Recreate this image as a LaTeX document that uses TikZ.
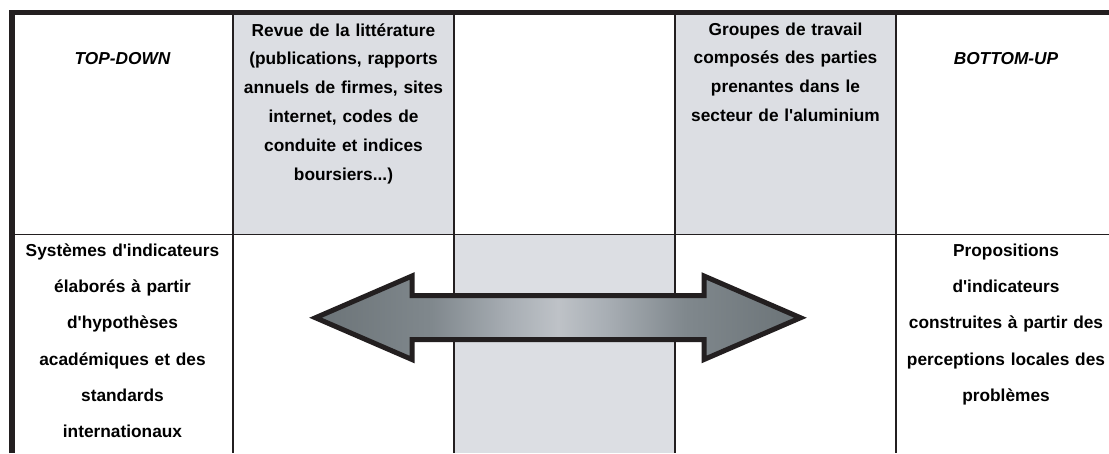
\documentclass[tikz,border=0pt]{standalone}
\usepackage{fontspec}
\setmainfont{Liberation Sans}
\definecolor{cellgrey}{RGB}{220,222,227}
\definecolor{linecol}{RGB}{35,31,32}
\definecolor{adark}{RGB}{107,115,119}
\definecolor{amid}{RGB}{128,136,141}
\definecolor{ahalf}{RGB}{168,174,180}
\definecolor{alight}{RGB}{190,194,199}
\pgfdeclarehorizontalshading{arrowshade}{100bp}{color(0bp)=(adark); color(25bp)=(adark); color(37bp)=(amid); color(45bp)=(ahalf); color(50bp)=(alight); color(55bp)=(ahalf); color(63bp)=(amid); color(75bp)=(adark); color(100bp)=(adark)}
\newcommand{\apos}{\textquotesingle}
\begin{document}
\begin{tikzpicture}[x=1pt,y=-1pt,
  thinline/.style={draw=linecol, line width=1.8pt},
  thickline/.style={draw=linecol, line width=5.5pt},
  cell/.style={text width=218pt, align=center, anchor=base, inner sep=0pt,
    font=\bfseries\fontsize{17.3}{28.9}\selectfont},
  lowcell/.style={cell, font=\bfseries\fontsize{17.3}{36.2}\selectfont},
  headcell/.style={cell, font=\bfseries\itshape\fontsize{17.3}{28.9}\selectfont}]
\useasboundingbox (0,0) rectangle (1109,453);
\fill[white] (0,0) rectangle (1109,453);
% grey cells
\fill[cellgrey] (233,15) rectangle (454,234.5);
\fill[cellgrey] (675,15) rectangle (896,234.5);
\fill[cellgrey] (454,234.5) rectangle (675,453);
% grid
\foreach \x in {233,454,675,896} \draw[thinline] (\x,12) -- (\x,453);
\draw[thinline] (12,234.5) -- (1109,234.5);
\draw[thickline] (12,453) -- (12,12.5) -- (1109,12.5);
% double arrow
\shadedraw[shading=arrowshade, draw=linecol, line width=5pt, line join=miter]
  (315.5,317.75) -- (412,276) -- (412,295.7) -- (704,295.7) -- (704,276)
  -- (800.5,317.75) -- (704,359.5) -- (704,339.5) -- (412,339.5) -- (412,359.5) -- cycle;
% texts
\node[headcell] (td) at (122.5,64) {TOP-DOWN};
\node[cell] (revue) at (343.5,36) {Revue de la littérature\\(publications, rapports\\annuels de firmes, sites\\internet, codes de\\conduite et indices\\boursiers...)};
\node[cell] (groupes) at (785.5,35) {Groupes de travail\\composés des parties\\prenantes dans le\\secteur de l\apos aluminium};
\node[headcell] (bu) at (1006,64) {BOTTOM-UP};
\node[lowcell] (sys) at (122.5,256.5) {Systèmes d\apos indicateurs\\élaborés à partir\\d\apos hypothèses\\académiques et des\\standards\\internationaux};
\node[lowcell] (prop) at (1006,256.5) {Propositions\\d\apos indicateurs\\construites à partir des\\perceptions locales des\\problèmes};
\end{tikzpicture}
\end{document}
